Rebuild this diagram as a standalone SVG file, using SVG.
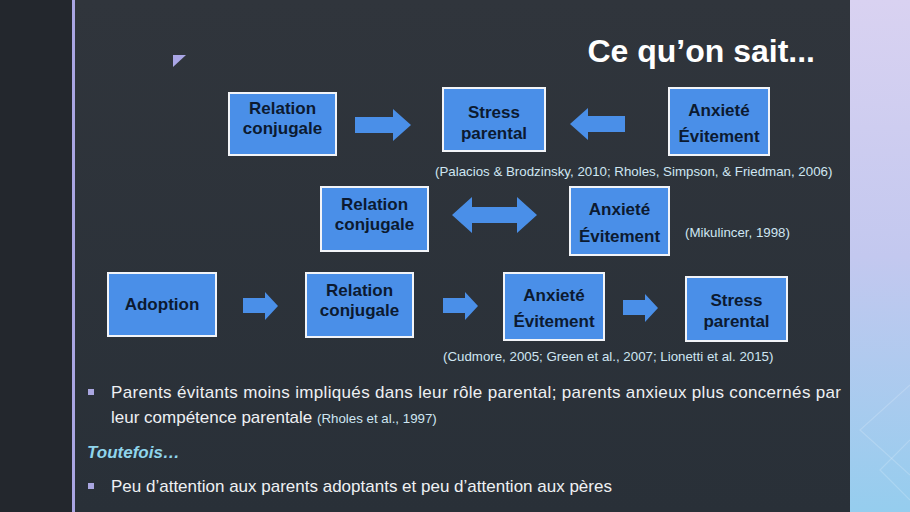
<svg xmlns="http://www.w3.org/2000/svg" width="910" height="512" viewBox="0 0 910 512">
<defs>
<linearGradient id="side" x1="0" y1="0" x2="0" y2="1">
<stop offset="0" stop-color="#d9d2f1"/>
<stop offset="0.5" stop-color="#c3c8ef"/>
<stop offset="1" stop-color="#95cdee"/>
</linearGradient>
<linearGradient id="main" x1="0" y1="0" x2="0" y2="1">
<stop offset="0" stop-color="#30353c"/>
<stop offset="1" stop-color="#293038"/>
</linearGradient>
<style>
.box{fill:#4a8fe8;stroke:#f2f4f8;stroke-width:2}
.bt{font-family:"Liberation Sans",Arial,sans-serif;font-weight:bold;font-size:17px;fill:#0c1a30;text-anchor:middle}
.arr{fill:#4a8fe8}
.cit{font-family:"Liberation Sans",Arial,sans-serif;font-size:13.3px;fill:#cfe6f2}
.body{font-family:"Liberation Sans",Arial,sans-serif;font-size:17px;fill:#eef0f3}
.bul{fill:#a9a6e0}
</style>
</defs>
<rect x="0" y="0" width="910" height="512" fill="#23272d"/>
<rect x="74" y="0" width="776" height="512" fill="url(#main)"/>
<rect x="72" y="0" width="3" height="512" fill="#a9a5e2"/>
<rect x="850" y="0" width="60" height="512" fill="url(#side)"/>
<g fill="none" stroke="#ffffff" stroke-opacity="0.18" stroke-width="1.2">
<polyline points="910,385 860,430 910,475"/>
<polyline points="910,440 880,470 910,500"/>
</g>
<polygon points="173,55 186,55 173,67" fill="#aaa6e6"/>
<text x="815" y="62" font-family="Liberation Sans,Arial,sans-serif" font-weight="bold" font-size="32" fill="#ffffff" text-anchor="end">Ce qu’on sait...</text>

<g id="connectors">
<polygon class="arr" points="355,117 393,117 393,109 411,125 393,141 393,133 355,133"/>
<polygon class="arr" points="625,116 588,116 588,108 570,124 588,140 588,132 625,132"/>
<polygon class="arr" points="452,215 472,197 472,207 517,207 517,197 537,215 517,233 517,223 472,223 472,233"/>
<polygon class="arr" points="243,298 265,298 265,292 278,306 265,320 265,313 243,313"/>
<polygon class="arr" points="443,298 465,298 465,292 478,306 465,320 465,313 443,313"/>
<polygon class="arr" points="623,300 645,300 645,294 658,308 645,322 645,315 623,315"/>
</g>

<g id="n1"><rect class="box" x="229" y="93" width="107" height="62"/><text class="bt" x="282.5" y="114">Relation</text><text class="bt" x="282.5" y="134">conjugale</text></g>
<g id="n2"><rect class="box" x="443" y="88" width="102" height="63"/><text class="bt" x="494" y="118">Stress</text><text class="bt" x="494" y="139">parental</text></g>
<g id="n3"><rect class="box" x="669" y="88" width="100" height="67"/><text class="bt" x="719" y="116">Anxieté</text><text class="bt" x="719" y="142">Évitement</text></g>
<text class="cit" x="435" y="176">(Palacios &amp; Brodzinsky, 2010; Rholes, Simpson, &amp; Friedman, 2006)</text>

<g id="n4"><rect class="box" x="321" y="187" width="107" height="64"/><text class="bt" x="374.5" y="210">Relation</text><text class="bt" x="374.5" y="230">conjugale</text></g>
<g id="n5"><rect class="box" x="570" y="187" width="99" height="68"/><text class="bt" x="619.5" y="215">Anxieté</text><text class="bt" x="619.5" y="242">Évitement</text></g>
<text class="cit" x="685" y="237">(Mikulincer, 1998)</text>

<g id="n6"><rect class="box" x="108" y="273" width="108" height="63"/><text class="bt" x="162" y="310">Adoption</text></g>
<g id="n7"><rect class="box" x="306" y="273" width="107" height="64"/><text class="bt" x="359.5" y="296">Relation</text><text class="bt" x="359.5" y="316">conjugale</text></g>
<g id="n8"><rect class="box" x="504" y="273" width="100" height="67"/><text class="bt" x="554" y="301">Anxieté</text><text class="bt" x="554" y="327">Évitement</text></g>
<g id="n9"><rect class="box" x="686" y="277" width="101" height="64"/><text class="bt" x="736.5" y="306">Stress</text><text class="bt" x="736.5" y="327">parental</text></g>
<text class="cit" x="443" y="361">(Cudmore, 2005; Green et al., 2007; Lionetti et al. 2015)</text>

<rect class="bul" x="88" y="389" width="6" height="6"/>
<text class="body" x="111" y="398" textLength="730" lengthAdjust="spacing">Parents évitants moins impliqués dans leur rôle parental; parents anxieux plus concernés par</text>
<text class="body" x="111" y="423">leur compétence parentale <tspan class="cit">(Rholes et al., 1997)</tspan></text>
<text x="87" y="458" font-family="Liberation Sans,Arial,sans-serif" font-size="17" font-weight="bold" font-style="italic" fill="#8fd5ec">Toutefois…</text>
<rect class="bul" x="88" y="483" width="6" height="6"/>
<text class="body" x="111" y="492">Peu d’attention aux parents adoptants et peu d’attention aux pères</text>
</svg>
